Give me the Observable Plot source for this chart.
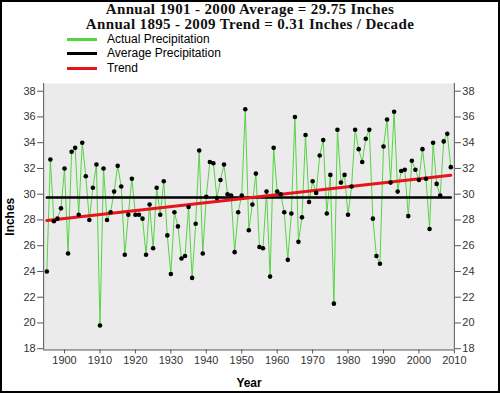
<!DOCTYPE html>
<html><head><meta charset="utf-8">
<script src="https://cdn.jsdelivr.net/npm/d3@7"></script>
<script src="https://cdn.jsdelivr.net/npm/@observablehq/plot@0.6"></script>
<style>
html,body{margin:0;padding:0;background:#fff;}
#wrap{position:relative;width:500px;height:393px;box-sizing:border-box;border:2px solid #000;overflow:hidden;font-family:"Liberation Sans",Arial,sans-serif;}
#title{position:absolute;left:-2px;top:0px;width:500px;text-align:center;font-family:"Liberation Serif",serif;font-weight:bold;font-size:15px;line-height:15px;letter-spacing:0.35px;color:#111;}
#title div{height:15px;}
#legend{position:absolute;left:65px;top:30px;font-size:12px;line-height:13px;color:#000;}
.item{height:14.5px;display:flex;align-items:center;}
.sw{width:30px;height:3px;margin-right:10px;}
#chart{position:absolute;left:-2px;top:73px;}
g[aria-label="x-axis label"] text, g[aria-label="y-axis label"] text{font-weight:bold;font-size:12px;fill:#000;}
</style>
</head><body>
<div id="wrap">
  <div id="title"></div>
  <div id="legend"></div>
  <div id="chart"></div>
</div>
<script>
const titleLines = ["Annual 1901 - 2000 Average = 29.75 Inches", "Annual 1895 - 2009 Trend = 0.31 Inches / Decade"];
const legendLabels = ["Actual Precipitation", "Average Precipitation", "Trend"];
const legendColors = ["#55d442", "#000000", "#e8141b"];

const years = d3.range(1895, 2010);
const precip = [
  24.0, 32.7, 27.9, 28.1, 28.9, 32.0, 25.4, 33.3, 33.6, 28.4,
  34.0, 31.4, 28.0, 30.5, 32.3, 19.8, 32.0, 28.0, 28.6, 30.2,
  32.2, 30.6, 25.3, 28.4, 31.2, 28.4, 28.4, 28.1, 25.3, 29.2,
  25.8, 30.5, 28.4, 31.0, 26.8, 23.8, 28.6, 27.5, 25.0, 25.2,
  29.0, 23.5, 27.7, 33.4, 25.4, 29.8, 32.5, 32.4, 29.7, 31.1,
  32.3, 30.0, 29.9, 25.5, 28.6, 29.9, 36.6, 27.2, 29.2, 31.6,
  25.9, 25.8, 30.2, 23.6, 33.6, 30.2, 30.0, 28.6, 24.9, 28.5,
  36.0, 26.3, 28.2, 34.6, 29.4, 31.0, 30.1, 33.0, 34.2, 28.5,
  31.5, 21.5, 35.0, 30.9, 31.5, 28.4, 30.6, 35.0, 33.5, 32.5,
  34.3, 35.0, 28.1, 25.2, 24.6, 33.7, 35.8, 30.9, 36.4, 30.2,
  31.8, 31.9, 28.3, 32.6, 31.9, 31.1, 33.5, 31.2, 27.3, 34.0,
  30.8, 29.9, 34.1, 34.7, 32.1
];
const avgYears = [1895, 2009];
const avgValue = 29.75;
const trendYears = [1895, 2009];
const trendValues = [27.95, 31.48];
const xTicks = [1900, 1910, 1920, 1930, 1940, 1950, 1960, 1970, 1980, 1990, 2000, 2010];
const yTicks = [18, 20, 22, 24, 26, 28, 30, 32, 34, 36, 38];
const xDomain = [1894.1, 2010];
const yDomain = [17.9, 38.6];

document.getElementById("title").innerHTML = titleLines.map(t => `<div>${t}</div>`).join("");
document.getElementById("legend").innerHTML = legendLabels.map((l, i) =>
  `<div class="item"><div class="sw" style="background:${legendColors[i]}"></div><span>${l}</span></div>`).join("");

const data = years.map((y, i) => ({year: y, value: precip[i]}));
const avg = avgYears.map(y => ({year: y, value: avgValue}));
const trend = trendYears.map((y, i) => ({year: y, value: trendValues[i]}));

const plot = Plot.plot({
  width: 500, height: 316,
  marginLeft: 43.3, marginRight: 44.3, marginTop: 8, marginBottom: 40.4,
  x: {domain: xDomain},
  y: {domain: yDomain},
  style: {fontFamily: "'Liberation Sans', Arial, sans-serif", fontSize: "11px", color: "#333", background: "transparent", overflow: "visible"},
  marks: [
    Plot.frame({fill: "#ebebeb", stroke: null}),
    Plot.line(data, {x: "year", y: "value", stroke: legendColors[0], strokeWidth: 1}),
    Plot.line(avg, {x: "year", y: "value", stroke: legendColors[1], strokeWidth: 2.5}),
    Plot.line(trend, {x: "year", y: "value", stroke: legendColors[2], strokeWidth: 3}),
    Plot.dot(data, {x: "year", y: "value", r: 2.3, fill: "#000", stroke: null}),
    Plot.ruleX(xDomain, {stroke: "#555", strokeWidth: 1}),
    Plot.ruleY([yDomain[0]], {stroke: "#555", strokeWidth: 1}),
    Plot.axisY({anchor: "left", ticks: yTicks, tickSize: 6, tickPadding: 2, stroke: "#555", label: "Inches", labelAnchor: "center", labelArrow: "none", labelOffset: 38}),
    Plot.axisY({anchor: "right", ticks: yTicks, tickSize: 6, tickPadding: 2, stroke: "#555", label: null}),
    Plot.axisX({anchor: "bottom", ticks: xTicks, tickSize: 4, tickPadding: 2, stroke: "#555", tickFormat: d => String(d), label: "Year", labelAnchor: "center", labelArrow: "none", labelOffset: 37})
  ]
});
document.getElementById("chart").appendChild(plot);
</script>
</body></html>
